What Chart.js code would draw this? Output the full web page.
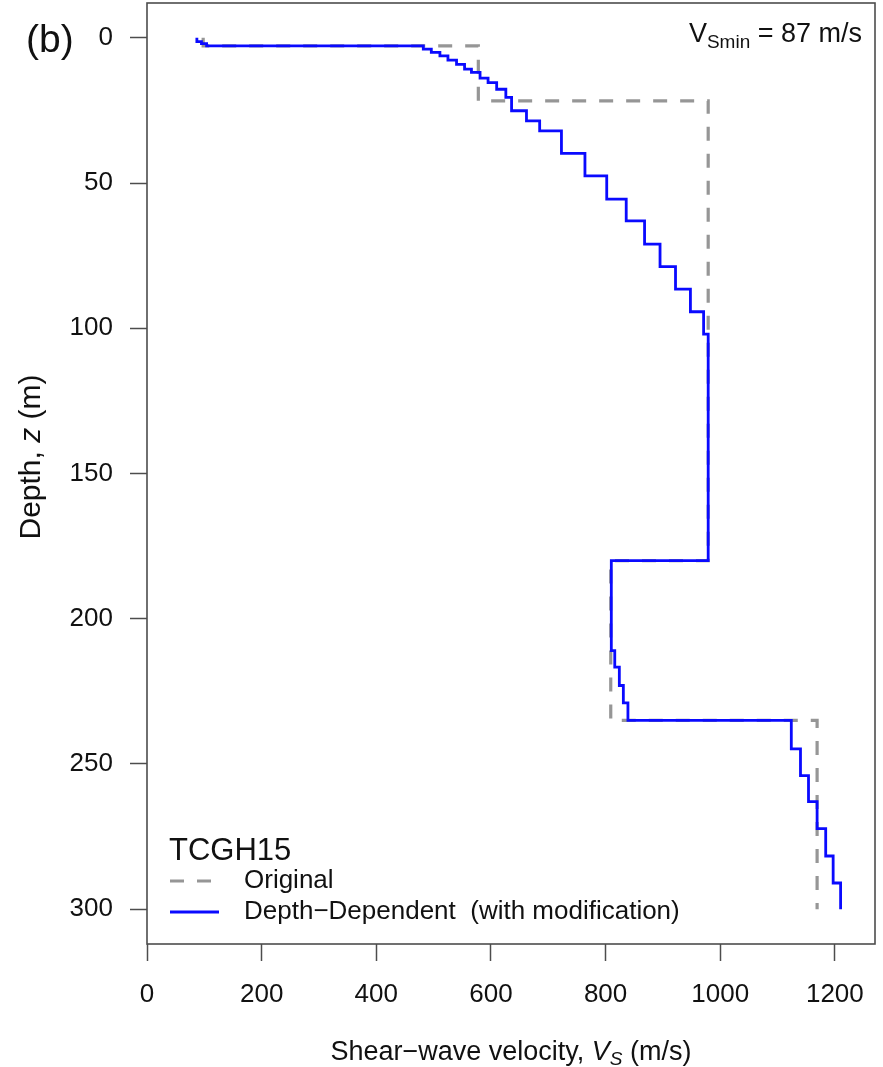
<!DOCTYPE html>
<html>
<head>
<meta charset="utf-8">
<script src="https://cdn.jsdelivr.net/npm/chart.js@4.4.1/dist/chart.umd.min.js"></script>
<style>
  html, body { margin: 0; padding: 0; background: #fff; }
  canvas { display: block; }
</style>
</head>
<body>
<canvas id="profile" width="883" height="1067"></canvas>
<script>
// Layer boundaries (m) and shear-wave velocity of each layer (m/s)
const origDepth = [0, 2.75, 21.7, 180, 235, 300];
const origVs = [98, 578, 979, 809, 1169];

const ddDepth = [0, 1.3, 2.0, 2.75, 3.9, 5.0, 6.2, 7.7, 9.1, 10.8, 11.9, 13.9, 15.4, 17.7, 20.5,
  25.1, 28.6, 32.0, 39.8, 47.5, 55.5, 63.0, 71.0, 78.8, 86.5, 94.3, 102, 180, 211, 216.7, 223,
  229, 235, 244.8, 254, 263, 272.3, 281.7, 291, 300];
const ddVs = [87, 95, 104, 482, 496, 511, 525, 540, 554, 566, 581, 595, 610, 626, 636,
  662, 685, 723, 764, 802, 836, 868, 895, 922, 948, 971, 979, 810, 816, 824, 831,
  839, 1124, 1140, 1154, 1169, 1184, 1197, 1210];

const xTicks = [0, 200, 400, 600, 800, 1000, 1200];
const yTicks = [0, 50, 100, 150, 200, 250, 300];

const siteName = 'TCGH15';
const FONT = '"Liberation Sans", Arial, sans-serif';
const GREY = 'rgb(150,150,150)';
const BLUE = 'rgb(10,10,255)';

// one point at the top of every layer, plus one at the base of the last
function layerPoints(depth, vs) {
  const pts = vs.map((v, i) => ({ x: v, y: depth[i] }));
  pts.push({ x: vs[vs.length - 1], y: depth[depth.length - 1] });
  return pts;
}

// draw a run of text pieces with their own fonts / baseline shifts
function drawRich(ctx, x, y, parts, align) {
  let total = 0;
  parts.forEach(p => { ctx.font = p.font; total += ctx.measureText(p.text).width; });
  let cx = align === 'center' ? x - total / 2 : align === 'right' ? x - total : x;
  ctx.textAlign = 'left';
  ctx.textBaseline = 'alphabetic';
  parts.forEach(p => {
    ctx.font = p.font;
    ctx.fillText(p.text, cx, y + (p.dy || 0));
    cx += ctx.measureText(p.text).width;
  });
}

const framePlugin = {
  id: 'frame',
  afterDraw(chart) {
    const { ctx, chartArea: a } = chart;
    ctx.save();
    ctx.strokeStyle = '#4d4d4d';
    ctx.lineWidth = 1.6;
    ctx.strokeRect(a.left, a.top, a.right - a.left, a.bottom - a.top);

    ctx.fillStyle = '#111';
    // panel letter
    ctx.font = '39px ' + FONT;
    ctx.textAlign = 'left';
    ctx.textBaseline = 'alphabetic';
    ctx.fillText('(b)', 26, 52);

    // axis titles
    drawRich(ctx, (a.left + a.right) / 2, 1060, [
      { text: 'Shear\u2212wave velocity, ', font: '27px ' + FONT },
      { text: 'V', font: 'italic 27px ' + FONT },
      { text: 'S', font: 'italic 19px ' + FONT, dy: 5 },
      { text: ' (m/s)', font: '27px ' + FONT }
    ], 'center');

    ctx.save();
    ctx.translate(40, 457);
    ctx.rotate(-Math.PI / 2);
    drawRich(ctx, 0, 0, [
      { text: 'Depth, ', font: '30px ' + FONT },
      { text: 'z', font: 'italic 30px ' + FONT },
      { text: ' (m)', font: '30px ' + FONT }
    ], 'center');
    ctx.restore();

    // minimum velocity note
    const vsMin = Math.min(...ddVs);
    drawRich(ctx, 862, 42, [
      { text: 'V', font: '27px ' + FONT },
      { text: 'Smin', font: '19px ' + FONT, dy: 6 },
      { text: ' = ' + vsMin + ' m/s', font: '27px ' + FONT }
    ], 'right');

    // legend
    ctx.font = '31px ' + FONT;
    ctx.fillText(siteName, 169, 860);
    const rows = [881, 912];
    chart.data.datasets.forEach((ds, i) => {
      const y = rows[i];
      ctx.save();
      ctx.strokeStyle = ds.borderColor;
      ctx.lineWidth = ds.borderWidth;
      ctx.setLineDash(ds.borderDash || []);
      ctx.beginPath();
      ctx.moveTo(170, y);
      ctx.lineTo(ds.borderDash ? 213 : 219, y);
      ctx.stroke();
      ctx.restore();
      ctx.font = '26px ' + FONT;
      ctx.textBaseline = 'middle';
      ctx.fillText(ds.label, 244, y);
      ctx.textBaseline = 'alphabetic';
    });
    ctx.restore();
  }
};

const tickGrid = {
  drawOnChartArea: false,
  drawTicks: true,
  tickLength: 17,
  tickColor: '#4d4d4d',
  tickWidth: 1.5
};

new Chart(document.getElementById('profile'), {
  type: 'scatter',
  data: {
    datasets: [
      {
        label: 'Original',
        data: layerPoints(origDepth, origVs),
        showLine: true,
        stepped: 'after',
        borderColor: GREY,
        borderWidth: 3.2,
        borderDash: [14, 13],
        pointRadius: 0,
        order: 2
      },
      {
        label: 'Depth\u2212Dependent  (with modification)',
        data: layerPoints(ddDepth, ddVs),
        showLine: true,
        stepped: 'after',
        borderColor: BLUE,
        borderWidth: 2.8,
        pointRadius: 0,
        order: 1
      }
    ]
  },
  options: {
    responsive: false,
    animation: false,
    layout: { padding: { left: 0, right: 8, top: 3, bottom: 0 } },
    plugins: {
      legend: { display: false },
      tooltip: { enabled: false }
    },
    scales: {
      x: {
        type: 'linear',
        min: 0,
        max: 1270,
        afterBuildTicks: s => { s.ticks = xTicks.map(v => ({ value: v })); },
        afterFit: s => { s.height = 123; s.paddingLeft = 0; s.paddingRight = 0; },
        grid: tickGrid,
        border: { display: false },
        ticks: {
          font: { family: FONT, size: 26 }, color: '#111', padding: 18, maxRotation: 0,
          callback: v => String(v)
        }
      },
      y: {
        type: 'linear',
        reverse: true,
        min: -12,
        max: 312,
        afterBuildTicks: s => { s.ticks = yTicks.map(v => ({ value: v })); },
        afterFit: s => { s.width = 147; s.paddingTop = 0; s.paddingBottom = 0; },
        grid: tickGrid,
        border: { display: false },
        ticks: {
          font: { family: FONT, size: 26 }, color: '#111', padding: 17,
          callback: v => String(v)
        }
      }
    }
  },
  plugins: [framePlugin]
});
</script>
</body>
</html>
